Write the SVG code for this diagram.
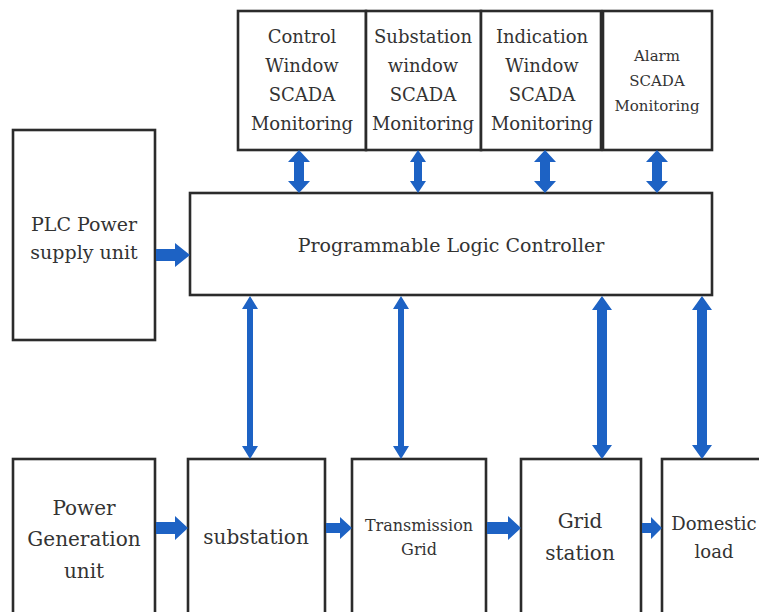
<svg xmlns="http://www.w3.org/2000/svg" width="759" height="612" viewBox="0 0 759 612">
<style>
.box{fill:#fff;stroke:#2b2b2b;stroke-width:2.6}
.t{font-family:"DejaVu Serif","Liberation Serif",serif;fill:#333;text-anchor:middle}
.a{fill:#1d62c4}
</style>
<rect width="759" height="612" fill="#fff"/>
<g id="control-window"><rect class="box" x="238" y="11" width="128" height="139"/>
<text class="t" font-size="18" x="302" y="43">Control</text><text class="t" font-size="18" x="302" y="72">Window</text><text class="t" font-size="18" x="302" y="101">SCADA</text><text class="t" font-size="18" x="302" y="130">Monitoring</text></g>
<g id="substation-window"><rect class="box" x="366" y="11" width="115" height="139"/>
<text class="t" font-size="18" x="423" y="43">Substation</text><text class="t" font-size="18" x="423" y="72">window</text><text class="t" font-size="18" x="423" y="101">SCADA</text><text class="t" font-size="18" x="423" y="130">Monitoring</text></g>
<g id="indication-window"><rect class="box" x="481" y="11" width="120" height="139"/>
<text class="t" font-size="18" x="542" y="43">Indication</text><text class="t" font-size="18" x="542" y="72">Window</text><text class="t" font-size="18" x="542" y="101">SCADA</text><text class="t" font-size="18" x="542" y="130">Monitoring</text></g>
<g id="alarm-scada"><rect class="box" x="603" y="11" width="109" height="139"/>
<text class="t" font-size="15" x="657" y="61">Alarm</text><text class="t" font-size="15" x="657" y="86">SCADA</text><text class="t" font-size="15" x="657" y="111">Monitoring</text></g>
<g id="plc"><rect class="box" x="190" y="193" width="522" height="102"/>
<text class="t" font-size="19" x="451" y="252">Programmable Logic Controller</text></g>
<g id="plc-power"><rect class="box" x="13" y="130" width="142" height="210"/>
<text class="t" font-size="19" x="84" y="231">PLC Power</text><text class="t" font-size="19" x="84" y="259">supply unit</text></g>
<g id="power-generation"><rect class="box" x="13" y="459" width="142" height="160"/>
<text class="t" font-size="20" x="84" y="515">Power</text><text class="t" font-size="20" x="84" y="546">Generation</text><text class="t" font-size="20" x="84" y="578">unit</text></g>
<g id="substation"><rect class="box" x="188" y="459" width="137" height="160"/>
<text class="t" font-size="20" x="256" y="544">substation</text></g>
<g id="transmission-grid"><rect class="box" x="352" y="459" width="134" height="160"/>
<text class="t" font-size="16" x="419" y="531">Transmission</text><text class="t" font-size="16" x="419" y="555">Grid</text></g>
<g id="grid-station"><rect class="box" x="521" y="459" width="120" height="160"/>
<text class="t" font-size="20" x="580" y="528">Grid</text><text class="t" font-size="20" x="580" y="560">station</text></g>
<g id="domestic-load"><rect class="box" x="662" y="459" width="110" height="160"/>
<text class="t" font-size="18" x="714" y="530">Domestic</text><text class="t" font-size="18" x="714" y="558">load</text></g>
<g id="connectors">
<polygon class="a" points="299,150 310,162 304,162 304,181 310,181 299,193 288,181 294,181 294,162 288,162"/>
<polygon class="a" points="418,150 426,162 422,162 422,181 426,181 418,193 410,181 414,181 414,162 410,162"/>
<polygon class="a" points="545,150 556,162 550,162 550,181 556,181 545,193 534,181 540,181 540,162 534,162"/>
<polygon class="a" points="657,150 668,162 662,162 662,181 668,181 657,193 646,181 652,181 652,162 646,162"/>
<polygon class="a" points="250,296 258,309 253,309 253,446 258,446 250,459 242,446 247,446 247,309 242,309"/>
<polygon class="a" points="401,296 409,309 404,309 404,446 409,446 401,459 393,446 398,446 398,309 393,309"/>
<polygon class="a" points="602,296 612,310 607,310 607,445 612,445 602,459 592,445 597,445 597,310 592,310"/>
<polygon class="a" points="702,296 712,310 707,310 707,445 712,445 702,459 692,445 697,445 697,310 692,310"/>
<polygon class="a" points="156,249 175,249 175,243 190,255 175,267 175,261 156,261"/>
<polygon class="a" points="156,522 175,522 175,516 188,528 175,540 175,534 156,534"/>
<polygon class="a" points="326,523 340,523 340,517 352,528 340,539 340,533 326,533"/>
<polygon class="a" points="487,522 508,522 508,516 521,528 508,540 508,534 487,534"/>
<polygon class="a" points="642,523 651,523 651,517 662,528 651,539 651,533 642,533"/>
</g>
</svg>
